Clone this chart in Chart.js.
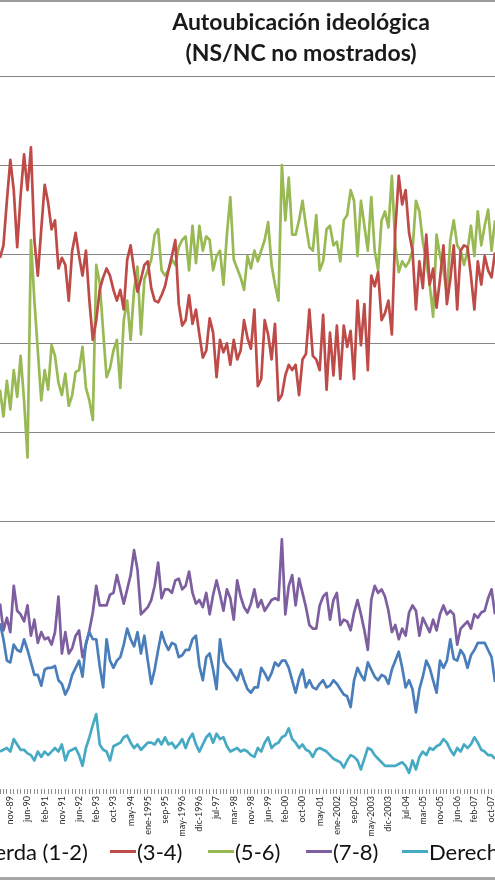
<!DOCTYPE html>
<html lang="es">
<head>
<meta charset="UTF-8">
<title>Autoubicación ideológica</title>
<style>
  body { margin: 0; background: #fff; font-family: Lato, sans-serif; }
  .page { position: relative; width: 495px; height: 880px; overflow: hidden; background: #fff; }
  .frame-top { position: absolute; left: 0; top: 0; width: 100%; height: 2px; background: #9c9c9c; }
  .frame-bottom { position: absolute; left: 0; bottom: 0; width: 100%; height: 3px; background: #a6a6a6; }
  .title { position: absolute; left: 101px; width: 400px; top: 6px; text-align: center;
           font-weight: bold; font-size: 23px; line-height: 31px; color: #1a1a1a; }
  .chart-box { position: absolute; left: 0; top: 0; width: 495px; height: 880px; }
  .legend-item { position: absolute; top: 838px; height: 26px; display: flex; align-items: center;
                 font-size: 22px; color: #111; white-space: nowrap; }
  .legend-item i { display: block; width: 26px; height: 3px; margin-right: 1px; }
</style>
</head>
<body>
<div class="page">
  <div class="chart-box"><canvas id="chart"></canvas></div>
  <div class="frame-top"></div>
  <div class="title">Autoubicación ideológica<br>(NS/NC no mostrados)</div>
  <div id="legend"></div>
  <div class="frame-bottom"></div>
</div>

<script src="https://cdn.jsdelivr.net/npm/chart.js@4"></script>
<script>
// ==== Datos ====
const tickLabels = ['nov-89', 'jun-90', 'feb-91', 'nov-91', 'jun-92', 'feb-93', 'oct-93', 'may-94',
  'ene-1995', 'sep-95', 'may-1996', 'dic-1996', 'jul-97', 'mar-98', 'nov-98', 'jun-99', 'feb-00',
  'oct-00', 'may-01', 'ene-2002', 'sep-02', 'may-2003', 'dic-2003', 'jul-04', 'mar-05', 'nov-05',
  'jun-06', 'feb-07', 'oct-07'];

const seriesNames = ['Izquierda (1-2)', '(3-4)', '(5-6)', '(7-8)', 'Derecha (9-10)'];

const izquierda = [9.3,8.4,7.2,7.1,8.1,7.8,7.7,8.4,7.8,7.1,
  6.4,6.4,5.8,6.7,6.8,6.8,6.9,6.1,5.9,5.3,
  5.7,6.4,6.8,7.2,6.3,8.2,8.8,8.4,8.4,6.9,
  5.7,8.4,7.2,6.8,7.2,7.4,8.1,9.0,8.4,8.0,
  8.8,7.6,8.6,7.2,5.9,6.7,7.8,8.8,8.2,7.8,
  8.2,8.1,7.4,7.5,7.8,7.8,8.4,8.6,6.9,6.1,
  7.4,7.6,6.7,5.6,8.4,7.2,6.9,6.7,6.4,6.1,
  6.7,6.1,5.6,5.4,5.7,5.7,6.8,6.5,6.1,6.5,
  7.1,6.9,7.2,7.2,6.8,6.1,5.4,6.2,6.7,5.7,
  6.1,5.7,5.6,5.9,6.1,5.7,5.8,6.1,5.9,5.6,
  5.3,5.2,4.6,6.1,6.8,6.4,6.1,7.1,6.7,6.3,
  6.1,6.4,6.3,5.9,6.7,7.2,7.7,6.8,5.7,6.1,
  5.6,4.3,5.6,6.3,7.2,6.8,6.1,5.4,7.2,6.8,
  7.2,8.4,7.3,7.2,7.8,7.5,6.8,7.5,7.8,8.2,
  8.2,8.2,7.8,7.4,6.0];

const centroIzq = [29.8,30.5,33.0,35.3,33.6,30.4,33.3,35.6,33.6,36.0,
  30.8,28.8,31.4,33.9,32.9,31.4,31.9,29.2,29.8,29.4,
  27.4,30.2,31.2,29.9,28.8,30.2,27.4,25.2,26.3,28.0,
  28.7,29.2,28.8,28.0,27.4,28.0,26.9,29.7,30.5,29.1,
  27.9,28.6,29.4,29.6,28.1,27.4,27.3,27.7,28.2,29.1,
  29.9,30.8,27.2,26.0,26.3,27.7,26.1,26.9,25.5,24.2,
  24.6,26.4,25.6,23.1,25.2,24.5,25.0,23.8,25.2,24.1,
  24.6,26.3,25.3,24.7,26.9,22.6,23.0,26.3,25.5,24.1,
  26.1,21.8,22.1,23.2,23.8,23.5,23.8,22.1,24.1,24.4,
  26.9,24.3,24.1,23.5,26.6,22.4,25.6,23.2,26.0,23.0,
  26.0,24.8,25.7,23.0,27.4,24.9,27.2,23.5,28.8,28.2,
  29.0,26.3,26.7,27.4,25.5,31.4,34.4,32.8,33.6,31.2,
  30.2,26.9,29.6,28.1,31.1,28.3,29.2,27.0,28.6,30.5,
  27.2,28.6,30.5,26.9,30.2,30.5,30.4,28.8,26.9,29.6,
  28.3,29.9,29.1,28.7,30.1];

const centro = [22.4,20.9,22.9,21.3,23.5,22.0,24.3,21.8,18.6,30.8,
  27.4,24.6,21.8,23.5,22.4,24.9,24.3,22.8,22.1,23.3,
  21.5,22.1,23.4,23.5,24.8,22.5,21.8,20.7,29.4,28.4,
  25.7,23.1,23.6,24.6,25.2,22.5,26.3,27.4,25.2,28.0,
  29.3,25.5,28.6,29.1,29.7,31.1,31.4,29.1,28.8,29.1,
  29.7,29.4,30.4,30.8,31.0,29.1,31.6,29.5,31.6,30.2,
  31.0,30.8,29.1,29.9,30.2,28.3,31.1,33.2,29.7,29.2,
  28.7,28.0,29.9,29.2,30.2,29.6,30.2,30.8,31.8,29.4,
  28.3,27.4,35.0,31.9,34.3,31.1,31.1,31.9,33.0,31.6,
  30.4,30.2,32.2,29.1,29.6,31.4,31.6,30.5,30.7,29.6,
  31.9,32.2,33.6,33.0,29.9,33.0,31.6,30.2,33.2,30.2,
  29.1,31.9,32.4,31.5,34.4,30.5,29.0,29.6,29.3,29.6,
  30.2,33.0,32.4,30.7,29.6,28.3,26.5,31.1,29.9,29.1,
  27.8,30.8,31.9,30.5,30.2,29.4,30.2,31.6,29.9,32.4,
  30.5,31.6,32.5,30.2,31.9];

const centroDer = [10.4,8.9,9.6,8.8,11.4,10.0,9.8,9.4,10.3,8.6,
  9.5,8.2,8.8,8.4,8.5,8.1,8.8,10.8,7.6,8.8,
  7.6,7.9,8.6,8.9,7.4,8.1,8.9,9.9,11.4,10.3,
  10.3,10.3,10.9,11.0,12.0,11.2,10.4,11.2,12.0,13.4,
  12.3,9.8,10.0,10.2,10.6,11.4,12.7,10.7,11.2,11.2,
  11.0,11.7,11.8,11.2,11.4,12.2,11.0,10.4,10.6,10.2,
  11.0,9.8,10.9,11.7,10.9,10.0,11.2,10.7,9.5,11.7,
  10.8,10.2,9.9,10.4,11.2,10.2,10.6,10.0,10.3,10.6,
  10.7,10.6,14.0,9.8,11.4,12.0,10.3,11.8,11.0,10.2,
  9.2,9.0,9.0,10.3,10.8,11.0,9.5,10.6,11.0,9.2,
  9.5,9.4,8.9,9.9,10.6,9.8,8.9,7.8,10.6,11.4,
  11.0,11.2,10.8,10.0,8.8,9.2,8.4,9.0,8.6,9.9,
  10.3,10.0,8.6,9.6,9.2,8.8,9.5,8.9,9.8,10.3,
  9.8,10.0,9.8,8.1,9.0,9.2,9.4,9.0,9.8,9.6,
  9.9,10.0,10.7,11.2,9.8];

const derecha = [2.1,2.2,2.3,2.1,2.8,2.5,2.2,2.2,2.0,1.9,
  1.6,2.1,1.8,2.1,1.9,2.1,2.3,2.1,2.5,1.6,
  2.1,2.2,2.3,1.9,1.3,2.3,2.9,3.6,4.2,2.5,
  2.2,2.1,1.6,2.4,2.5,2.6,2.9,3.0,2.6,2.3,
  2.5,2.2,2.4,2.6,2.6,2.5,2.8,2.5,2.9,2.5,
  2.6,2.3,2.5,2.8,2.3,2.8,3.1,2.5,2.1,2.5,
  2.9,3.1,2.6,3.1,2.8,2.9,2.4,2.1,2.2,2.3,
  2.1,2.2,2.1,1.9,1.8,2.3,2.1,2.6,2.9,2.3,
  2.5,2.6,2.9,3.0,3.4,2.8,2.6,2.3,2.5,2.2,
  2.1,1.8,2.2,2.3,2.2,2.1,1.9,1.7,1.6,1.5,
  1.2,1.6,1.9,1.8,1.6,1.1,1.7,2.3,2.2,1.9,
  1.7,1.5,1.3,1.3,1.3,1.3,1.4,1.5,1.3,0.9,
  1.6,1.1,1.8,2.1,1.9,2.3,2.2,2.4,2.5,2.8,
  2.6,2.2,1.9,2.3,2.1,2.5,2.3,2.5,2.9,2.6,
  2.2,2.1,1.9,1.9,1.7];

// ==== Estilo ====
const colors = ['#4a7ebb', '#be4b48', '#98b954', '#7d5fa0', '#46aac4'];
const legendLeft = [null, 110, 208, 306, 402];   // la primera entrada queda cortada a la izquierda

// una etiqueta cada 5 sondeos
const categories = izquierda.map((_, i) => (i % 5 === 3) ? tickLabels[(i - 3) / 5] : '');
const values = [izquierda, centroIzq, centro, centroDer, derecha];

// ==== Leyenda ====
const legend = document.getElementById('legend');
seriesNames.forEach((name, k) => {
  const item = document.createElement('div');
  item.className = 'legend-item';
  if (legendLeft[k] === null) item.style.right = (495 - 88) + 'px';
  else item.style.left = legendLeft[k] + 'px';
  const sw = document.createElement('i');
  sw.style.background = colors[k];
  item.appendChild(sw);
  item.appendChild(document.createTextNode(name));
  legend.appendChild(item);
});

// ==== Gráfico ====
new Chart(document.getElementById('chart'), {
  type: 'line',
  data: {
    labels: categories,
    datasets: values.map((d, k) => ({
      label: seriesNames[k],
      data: d,
      borderColor: colors[k],
      backgroundColor: colors[k],
      borderWidth: 2.7,
      borderJoinStyle: 'round',
      pointRadius: 0,
      tension: 0,
      fill: false
    }))
  },
  options: {
    responsive: true,
    maintainAspectRatio: false,
    animation: false,
    layout: { padding: { top: 76, bottom: 21, left: 0, right: 0 } },
    plugins: {
      legend: { display: false },
      title: { display: false },
      tooltip: { enabled: false }
    },
    scales: {
      x: {
        offset: false,
        border: { display: false },
        grid: { drawOnChartArea: false, drawTicks: true, tickLength: 5, color: '#8c8c8c' },
        ticks: {
          autoSkip: false, minRotation: 90, maxRotation: 90, padding: 2,
          color: '#2a2a2a', font: { family: 'Lato', size: 9 }
        },
        afterFit: s => { s.height = 70; s.paddingLeft = 0; s.paddingRight = 0; }
      },
      y: {
        min: 0,
        max: 40,
        border: { display: false },
        grid: {
          drawTicks: false,
          color: c => (c.tick && c.tick.value >= 15) ? '#868686' : 'rgba(0,0,0,0)'
        },
        ticks: { display: false, stepSize: 5 },
        afterFit: s => { s.width = 0; }
      }
    }
  }
});
</script>
</body>
</html>
